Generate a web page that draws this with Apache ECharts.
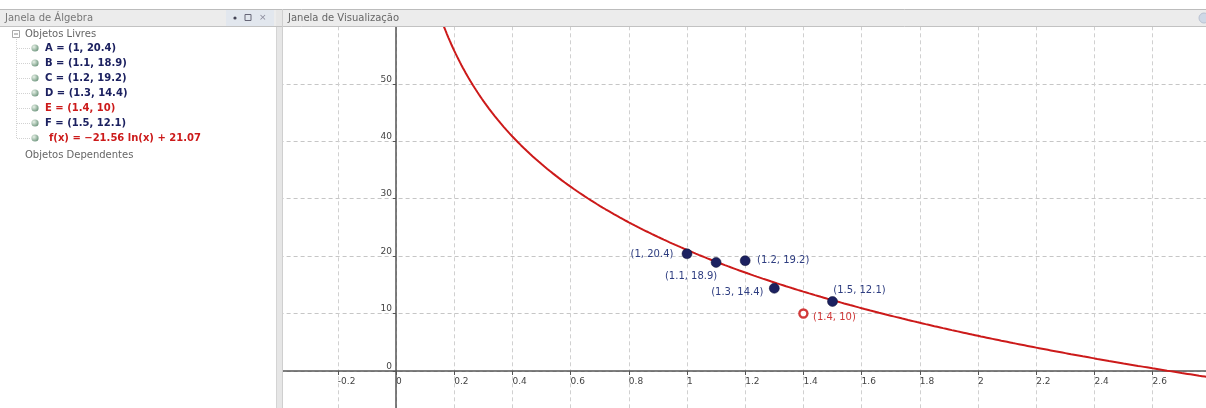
<!DOCTYPE html>
<html>
<head>
<meta charset="utf-8">
<script src="https://cdn.jsdelivr.net/npm/echarts@6/dist/echarts.min.js"></script>
<style>
  html, body { margin: 0; padding: 0; background: #fff; }
  #chart { width: 1206px; height: 408px; }
</style>
</head>
<body>
<div id="chart"></div>
<script>
// Free points (x, y) and the logarithmic fit through them
const pointNames = ['A', 'B', 'C', 'D', 'E', 'F'];
const pointX = [1, 1.1, 1.2, 1.3, 1.4, 1.5];
const pointY = [20.4, 18.9, 19.2, 14.4, 10, 12.1];
const fitCoefA = -21.56;   // f(x) = A ln(x) + B
const fitCoefB = 21.07;

// Axis ranges and steps
const xRange = [-0.4, 2.8];
const xStep = 0.2;
const yRange = [-10, 60];
const yStep = 10;

// Panel texts
const panelTitles = ['Janela de Álgebra', 'Janela de Visualização'];
const treeHeadings = ['Objetos Livres', 'Objetos Dependentes'];

// ---------- layout / style ----------
const FONT = 'DejaVu Sans';
const navy = '#1c2160';
const red = '#cc1a1a';
const labelBlue = '#2e3d80';
const highlighted = ['E'];            // drawn in red, hollow
const labelOffsets = {                 // label placement around each point
  A: [-35, 1], B: [-25, 14], C: [38, 0], D: [-37, 4], E: [31, 4], F: [27, -11]
};

// Curve y = A ln(x) + B, sampled across the visible range
const curve = [];
for (let x = 0.15; x <= xRange[1] + 1e-9; x += 0.005) {
  curve.push([x, fitCoefA * Math.log(x) + fitCoefB]);
}

const fmt = v => String(+(+v).toFixed(2));

const pointData = pointNames.map((n, i) => {
  const hl = highlighted.includes(n);
  return {
    value: [pointX[i], pointY[i]],
    symbol: 'circle',
    symbolSize: hl ? 8 : 10,
    itemStyle: hl
      ? { color: '#ffffff', borderColor: '#d23a3a', borderWidth: 2.4, opacity: 1 }
      : { color: navy, borderColor: '#0d0f33', borderWidth: 0.5, opacity: 1 },
    label: {
      show: true,
      position: 'inside',
      offset: labelOffsets[n],
      formatter: '(' + fmt(pointX[i]) + ', ' + fmt(pointY[i]) + ')',
      color: hl ? '#d03a3a' : labelBlue,
      fontFamily: FONT,
      fontSize: 10
    }
  };
});

// ---------- algebra panel graphics ----------
const rowTop = 48, rowStep = 15;
const algebraRows = pointNames.map((n, i) => ({
  text: n + ' = (' + fmt(pointX[i]) + ', ' + fmt(pointY[i]) + ')',
  color: highlighted.includes(n) ? red : navy
}));
algebraRows.push({
  text: 'f(x) = \u2212' + Math.abs(fitCoefA) + ' ln(x) + ' + fitCoefB,
  color: red
});

const graphics = [];
const Z = 100;
// header bar across both panels
graphics.push({ type: 'rect', z: Z, shape: { x: 0, y: 9, width: 1206, height: 18 },
  style: { fill: '#ececec' } });
graphics.push({ type: 'line', z: Z + 1, shape: { x1: 0, y1: 9.5, x2: 1206, y2: 9.5 },
  style: { stroke: '#bcbcbc', lineWidth: 1 } });
graphics.push({ type: 'line', z: Z + 1, shape: { x1: 0, y1: 26.5, x2: 1206, y2: 26.5 },
  style: { stroke: '#c2c2c2', lineWidth: 1 } });
// algebra panel body
graphics.push({ type: 'rect', z: Z, shape: { x: 0, y: 27, width: 277, height: 381 },
  style: { fill: '#ffffff' } });
// splitter between panels
graphics.push({ type: 'rect', z: Z, shape: { x: 276, y: 9, width: 7, height: 399 },
  style: { fill: '#e6e6e6' } });
graphics.push({ type: 'line', z: Z + 1, shape: { x1: 276.5, y1: 27, x2: 276.5, y2: 408 },
  style: { stroke: '#d4d4d4', lineWidth: 1 } });
graphics.push({ type: 'line', z: Z + 1, shape: { x1: 282.5, y1: 9, x2: 282.5, y2: 408 },
  style: { stroke: '#cfcfcf', lineWidth: 1 } });
// header icon strip
graphics.push({ type: 'rect', z: Z + 1, shape: { x: 226, y: 10, width: 48, height: 16 },
  style: { fill: '#e2e7ee' } });
graphics.push({ type: 'circle', z: Z + 2, shape: { cx: 235, cy: 18, r: 1.6 },
  style: { fill: '#445' } });
graphics.push({ type: 'rect', z: Z + 2, shape: { x: 245, y: 14.5, width: 6, height: 6 },
  style: { fill: 'none', stroke: '#667', lineWidth: 1 } });
graphics.push({ type: 'text', z: Z + 2, style: { x: 259, y: 18, text: '\u00d7', fill: '#889',
  font: '9px ' + FONT, verticalAlign: 'middle' } });
// header titles
graphics.push({ type: 'text', z: Z + 2, style: { x: 5, y: 18, text: panelTitles[0], fill: '#777',
  font: '10px ' + FONT, verticalAlign: 'middle' } });
graphics.push({ type: 'text', z: Z + 2, style: { x: 288, y: 18, text: panelTitles[1], fill: '#666',
  font: '10px ' + FONT, verticalAlign: 'middle' } });
// right corner icon
graphics.push({ type: 'circle', z: Z + 2, shape: { cx: 1204, cy: 18, r: 5 },
  style: { fill: '#cfd8e6', stroke: '#b9c2d2' } });

// tree: folder toggle and headings
graphics.push({ type: 'rect', z: Z + 2, shape: { x: 12.5, y: 30.5, width: 7, height: 7 },
  style: { fill: '#fff', stroke: '#aaa', lineWidth: 1 } });
graphics.push({ type: 'line', z: Z + 3, shape: { x1: 14, y1: 34, x2: 18, y2: 34 },
  style: { stroke: '#888', lineWidth: 1 } });
graphics.push({ type: 'text', z: Z + 2, style: { x: 25, y: 34, text: treeHeadings[0], fill: '#666',
  font: '10px ' + FONT, verticalAlign: 'middle' } });
graphics.push({ type: 'text', z: Z + 2, style: { x: 25, y: 155, text: treeHeadings[1], fill: '#666',
  font: '10px ' + FONT, verticalAlign: 'middle' } });
// tree connectors
const lastRowY = rowTop + rowStep * (algebraRows.length - 1);
graphics.push({ type: 'line', z: Z + 1, shape: { x1: 16.5, y1: 39, x2: 16.5, y2: lastRowY },
  style: { stroke: '#d2d2d2', lineWidth: 1, lineDash: [1, 1] } });
algebraRows.forEach((row, i) => {
  const y = rowTop + rowStep * i;
  graphics.push({ type: 'line', z: Z + 1, shape: { x1: 17, y1: y + 0.5, x2: 30, y2: y + 0.5 },
    style: { stroke: '#d2d2d2', lineWidth: 1, lineDash: [1, 1] } });
  graphics.push({ type: 'circle', z: Z + 2, shape: { cx: 35, cy: y, r: 3.6 },
    style: {
      fill: { type: 'radial', x: 0.35, y: 0.35, r: 0.8,
        colorStops: [{ offset: 0, color: '#e8f2e8' }, { offset: 1, color: '#5f8a70' }] }
    } });
  graphics.push({ type: 'text', z: Z + 2, style: {
    x: i === algebraRows.length - 1 ? 49 : 45, y: y, text: row.text, fill: row.color,
    font: 'bold 10px ' + FONT, verticalAlign: 'middle' } });
});

// ---------- chart ----------
const chart = echarts.init(document.getElementById('chart'), null, { renderer: 'canvas' });

// graphics view: origin at (396, 371), 291 px per x unit, 5.745 px per y unit
const pxX = 291, pxY = 5.745;
const originX = 396, originY = 371;
const gridLeft = originX + xRange[0] * pxX;
const gridWidth = (xRange[1] - xRange[0]) * pxX;
const gridTop = originY - yRange[1] * pxY;
const gridHeight = (yRange[1] - yRange[0]) * pxY;
const gridBottom = gridTop + gridHeight;
// axis lines sit on zero; their labels are pulled from the grid edge to the axes
const xLabelMargin = (originY + 6) - gridBottom;
const yLabelMargin = gridLeft - (originX - 4);

chart.setOption({
  animation: false,
  backgroundColor: '#ffffff',
  grid: {
    left: gridLeft, top: gridTop, width: gridWidth, height: gridHeight,
    outerBoundsMode: 'none', containLabel: false
  },
  xAxis: {
    type: 'value', min: xRange[0], max: xRange[1], interval: xStep,
    axisLine: { show: true, onZero: true, lineStyle: { color: '#555', width: 1.5 } },
    axisTick: { show: true, length: 4, lineStyle: { color: '#555' } },
    axisLabel: {
      show: true, formatter: v => fmt(v), color: '#444', fontFamily: FONT, fontSize: 9,
      align: 'left', margin: xLabelMargin, showMinLabel: false, showMaxLabel: true
    },
    splitLine: { show: true, lineStyle: { color: '#d0d0d0', width: 1, type: [4, 3] } }
  },
  yAxis: {
    type: 'value', min: yRange[0], max: yRange[1], interval: yStep,
    axisLine: { show: true, onZero: true, lineStyle: { color: '#555', width: 1.5 } },
    axisTick: { show: true, length: 3, lineStyle: { color: '#555' } },
    axisLabel: {
      show: true, formatter: v => fmt(v), color: '#444', fontFamily: FONT, fontSize: 9,
      verticalAlign: 'bottom', margin: yLabelMargin, showMinLabel: false
    },
    splitLine: { show: true, lineStyle: { color: '#c6c6c6', width: 1, type: [4, 3] } }
  },
  graphic: { elements: graphics },
  series: [
    {
      name: 'f', type: 'line', data: curve, showSymbol: false, smooth: false,
      clip: true, z: 3,
      lineStyle: { color: red, width: 2 }
    },
    {
      name: 'pontos', type: 'scatter', data: pointData, z: 5
    }
  ]
});
</script>
</body>
</html>
